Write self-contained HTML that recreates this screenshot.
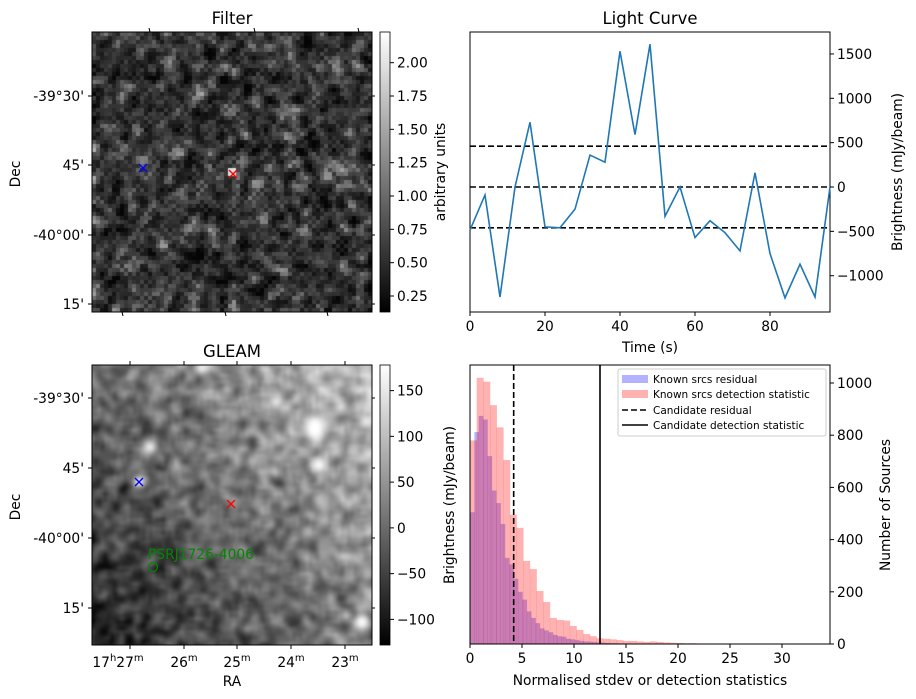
<!DOCTYPE html>
<html><head><meta charset="utf-8">
<style>
body{margin:0;background:#fff;width:916px;height:699px;overflow:hidden;font-family:"DejaVu Sans","Liberation Sans",sans-serif}
#wrap{position:relative;width:916px;height:699px}
canvas{position:absolute}
svg{position:absolute;left:0;top:0}
text{font-family:"DejaVu Sans","Liberation Sans",sans-serif;font-size:13.8px;fill:#000}
</style></head><body>
<div id="wrap">
<canvas id="cf" width="280" height="280" style="left:92px;top:32px"></canvas>
<canvas id="cg" width="280" height="280" style="left:92px;top:365px"></canvas>
<svg id="s" width="916" height="699"></svg>
</div>
<script>
// Light curve data
const lcTimes=[0,4,8,12,16,20,24,28,32,36,40,44,48,52,56,60,64,68,72,76,80,84,88,92,96];
const lcValues=[-485,-90,-1240,0,730,-450,-460,-250,360,280,1530,590,1610,-330,0,-570,-380,-515,-720,160,-750,-1250,-870,-1240,0];
const lcLevels=[460,0,-460];
const lcXTicks=[0,20,40,60,80];
const lcYTicks=[-1000,-500,0,500,1000,1500];
// Histogram data
const redBinWidth=0.64;
const redCounts=[780,1020,1005,915,830,705,495,445,318,287,203,161,100,92,90,69,54,38,30,22,20,18,15,12,12,10,8,10,8,6,5,4,3,3,2,2,1,1,1,1,1,1,1,1,1,0,0,1];
const blueBinWidth=0.42;
const blueCounts=[505,812,874,860,720,588,540,460,330,305,250,200,170,125,100,80,60,52,45,35,30,28,20,18,15,12,10,9,8,6,5,4,3,3,2,2,2,1,1,1,1,1];
const candResidual=4.2;
const candDetection=12.5;
const histXTicks=[0,5,10,15,20,25,30];
const histYTicks=[0,200,400,600,800,1000];
const filterCbTicks=[0.25,0.5,0.75,1.0,1.25,1.5,1.75,2.0];
const gleamCbTicks=[-100,-50,0,50,100,150];

const S=document.getElementById('s');const NS='http://www.w3.org/2000/svg';
function el(t,a,p){const e=document.createElementNS(NS,t);for(const k in a)e.setAttribute(k,a[k]);(p||S).appendChild(e);return e;}
function tx(x,y,s,anchor,extra){const e=el('text',Object.assign({x:x,y:y,'text-anchor':anchor||'middle'},extra||{}));e.textContent=s;return e;}

// ---- image textures (seeded) ----
let seed=12345;function rnd(){seed=(seed*1103515245+12345)%2147483648;return seed/2147483648;}
(function(){
 const c=document.getElementById('cf').getContext('2d');const N=70;let g=[];
 for(let i=0;i<N*N;i++)g.push(rnd());
 let h=[];for(let y=0;y<N;y++)for(let x=0;x<N;x++){let s=0,n=0;for(let dy=-1;dy<=1;dy++)for(let dx=-1;dx<=1;dx++){const xx=x+dx,yy=y+dy;if(xx>=0&&yy>=0&&xx<N&&yy<N){const w=(dx==0&&dy==0)?4:1;s+=g[yy*N+xx]*w;n+=w;}}h.push(s/n);}
 for(let y=0;y<N;y++)for(let x=0;x<N;x++){const z=(h[y*N+x]-0.5)/0.13;let v=52+24*z;if(z>1)v+=30*(z-1);v=Math.max(5,Math.min(235,v));c.fillStyle='rgb('+(v|0)+','+(v|0)+','+(v|0)+')';c.fillRect(x*4,y*4,4,4);}
 c.fillStyle='#ddd';c.fillRect(136,136,8,8);
})();
(function(){
 const c=document.getElementById('cg').getContext('2d');const N=90;const off=document.createElement('canvas');off.width=N;off.height=N;const o=off.getContext('2d');
 let g=[];for(let i=0;i<N*N;i++)g.push(rnd());
 let h=[];for(let y=0;y<N;y++)for(let x=0;x<N;x++){let s=0,n=0;for(let dy=-1;dy<=1;dy++)for(let dx=-1;dx<=1;dx++){const xx=x+dx,yy=y+dy;if(xx>=0&&yy>=0&&xx<N&&yy<N){s+=g[yy*N+xx];n++;}}h.push(s/n);}
 const im=o.createImageData(N,N);
 for(let y=0;y<N;y++)for(let x=0;x<N;x++){const grad=30+95*(x/N)+75*(1-y/N);let v=grad+(h[y*N+x]-0.5)*230;v=Math.max(0,Math.min(255,v));const i=(y*N+x)*4;im.data[i]=im.data[i+1]=im.data[i+2]=v;im.data[i+3]=255;}
 o.putImageData(im,0,0);c.imageSmoothingEnabled=true;c.filter='blur(1.5px)';c.drawImage(off,-4,-4,288,288);c.filter='blur(3px)';
 const blobs=[[58,82,6,6],[223,63,10,12],[227,100,7,7],[110,3,7,5],[270,257,7,7],[47,117,6,6],[184,37,5,5]];
 c.fillStyle='#fff';blobs.forEach(b=>{c.beginPath();c.ellipse(b[0],b[1],b[2],b[3],0,0,Math.PI*2);c.fill();});
})();

// ---- image frames, ticks, labels ----
function imgPanel(top,title,nm,decs){
 el('rect',{x:92,y:top,width:280,height:280,fill:'none',stroke:'#000','stroke-width':1});
 tx(232,top-8,title,'middle',{style:'font-size:16.5px',});
 decs.forEach(d=>{el('line',{x1:88,x2:92,y1:d[1],y2:d[1],stroke:'#000'});tx(84,d[1]+5,d[0],'end');el('line',{x1:372,x2:375,y1:d[1],y2:d[1],stroke:'#000'});});
 tx(0,0,'Dec','middle',{transform:'translate(20 '+(top+142)+') rotate(-90)',});
}
imgPanel(32,'Filter','filter',[['-39°30\'',96],['45\'',165],['-40°00\'',235],['15\'',304]]);
imgPanel(365,'GLEAM','gleam',[['-39°30\'',398],['45\'',468],['-40°00\'',538],['15\'',608]]);
[149,254,358].forEach(x=>{el('line',{x1:x,x2:x+1,y1:28,y2:32,stroke:'#000'});});
[122,225,327].forEach(x=>{el('line',{x1:x,x2:x+1,y1:312,y2:316,stroke:'#000'});});
const ras=[['27',130],['26',184],['25',237],['24',291],['23',345]];
ras.forEach((r,i)=>{el('line',{x1:r[1],x2:r[1],y1:645,y2:649,stroke:'#000'});el('line',{x1:r[1],x2:r[1],y1:361,y2:365,stroke:'#000'});
 const t=el('text',{x:r[1]+(i==0?-12:0),y:667,'text-anchor':'middle'});t.innerHTML=(i==0?'17<tspan dy="-6" style="font-size:10px">h</tspan><tspan dy="6">':'<tspan>')+r[0]+'</tspan><tspan dy="-6" style="font-size:10px">m</tspan>';});
tx(232,686,'RA','middle',{});
// markers
function cross(x,y,col,nm){const g=el('g',{stroke:col,'stroke-width':1.3});el('line',{x1:x-4,y1:y-4,x2:x+4,y2:y+4},g);el('line',{x1:x-4,y1:y+4,x2:x+4,y2:y-4},g);}
cross(143,168,'#00f','filter-known-marker');cross(233,174,'#f00','filter-candidate-marker');
cross(139,482,'#00f','gleam-known-marker');cross(231,504,'#f00','gleam-candidate-marker');
el('circle',{cx:153,cy:567,r:4.5,fill:'none',stroke:'#080','stroke-width':1.2});
tx(148,559,'PSRJ1726-4006','start',{style:'fill:#080;font-size:13.8px',});

// colorbars
function cbar(top,vmin,vmax,ticks,label,nm,fmt){
 const id='gr'+nm;const d=el('defs',{});const lg=el('linearGradient',{id:id,x1:0,y1:1,x2:0,y2:0},d);el('stop',{offset:0,'stop-color':'#000'},lg);el('stop',{offset:1,'stop-color':'#fff'},lg);
 const r=el('rect',{x:380,y:top,width:10,height:280,fill:'url(#'+id+')',stroke:'#000','stroke-width':0.8});
 ticks.forEach(v=>{const y=top+280-(v-vmin)/(vmax-vmin)*280;el('line',{x1:390,x2:394,y1:y,y2:y,stroke:'#000'});tx(397,y+5,fmt(v),'start');});
 tx(0,0,label,'middle',{transform:'translate('+(nm=='filter'?445:454)+' '+(top+140)+') rotate(-90)',});
}
cbar(32,0.13,2.23,filterCbTicks,'arbitrary units','filter',v=>v.toFixed(2));
cbar(365,-128,178,gleamCbTicks,'Brightness (mJy/beam)','gleam',v=>v<0?'\u2212'+(-v):String(v));

// ---- light curve ----
const L={x:470,y:32,w:360,h:280};
const lx=t=>L.x+t/96*L.w;const ly=v=>187-v*0.0887;
el('rect',{x:L.x,y:L.y,width:L.w,height:L.h,fill:'none',stroke:'#000'});
tx(650,24,'Light Curve','middle',{style:'font-size:16.5px',});
lcLevels.forEach(v=>{const l=el('line',{x1:L.x,x2:L.x+L.w,y1:ly(v),y2:ly(v),stroke:'#000','stroke-width':1.6,'stroke-dasharray':'6,3'});});
const lp=el('polyline',{points:lcTimes.map((t,i)=>lx(t)+','+ly(lcValues[i])).join(' '),fill:'none',stroke:'#1f77b4','stroke-width':1.6});

lcXTicks.forEach(t=>{el('line',{x1:lx(t),x2:lx(t),y1:312,y2:316,stroke:'#000'});tx(lx(t),331,String(t));});
lcYTicks.forEach(v=>{el('line',{x1:830,x2:834,y1:ly(v),y2:ly(v),stroke:'#000'});tx(837,ly(v)+5,v<0?'\u2212'+(-v):String(v),'start');});
tx(650,352,'Time (s)','middle',{});
tx(0,0,'Brightness (mJy/beam)','middle',{transform:'translate(902 172) rotate(-90)',});

// ---- histogram ----
const H={x:470,y:365,w:360,h:279};
const hx=v=>H.x+v*10.4;const hy=c=>644-c*0.261;
blueCounts.forEach((c,i)=>{if(!c)return;const r=el('rect',{x:hx(i*blueBinWidth),y:hy(c),width:blueBinWidth*10.4+0.3,height:c*0.261,fill:'#0000ff','fill-opacity':0.3});});
redCounts.forEach((c,i)=>{if(!c)return;const r=el('rect',{x:hx(i*redBinWidth),y:hy(c),width:redBinWidth*10.4+0.3,height:c*0.261,fill:'#ff0000','fill-opacity':0.3});});
el('line',{x1:hx(candResidual),x2:hx(candResidual),y1:H.y,y2:644,stroke:'#000','stroke-width':1.6,'stroke-dasharray':'6,3'});
el('line',{x1:hx(candDetection),x2:hx(candDetection),y1:H.y,y2:644,stroke:'#000','stroke-width':1.6});
el('rect',{x:H.x,y:H.y,width:H.w,height:H.h,fill:'none',stroke:'#000'});
histXTicks.forEach(v=>{el('line',{x1:hx(v),x2:hx(v),y1:644,y2:648,stroke:'#000'});tx(hx(v),663,String(v));});
histYTicks.forEach(v=>{el('line',{x1:830,x2:834,y1:hy(v),y2:hy(v),stroke:'#000'});tx(837,hy(v)+5,String(v),'start');});
tx(650,685,'Normalised stdev or detection statistics','middle',{});
tx(0,0,'Number of Sources','middle',{transform:'translate(890 505) rotate(-90)',});
// legend
const lg=el('g',{});
el('rect',{x:618,y:369,width:208,height:67,rx:2,fill:'#fff','fill-opacity':0.8,stroke:'#ccc'},lg);
el('rect',{x:622,y:375,width:26,height:8,fill:'#0000ff','fill-opacity':0.3},lg);
el('rect',{x:622,y:390,width:26,height:8,fill:'#ff0000','fill-opacity':0.3},lg);
el('line',{x1:622,x2:648,y1:410,y2:410,stroke:'#000','stroke-width':1.6,'stroke-dasharray':'6,3'},lg);
el('line',{x1:622,x2:648,y1:425,y2:425,stroke:'#000','stroke-width':1.6},lg);
[['Known srcs residual',383],['Known srcs detection statistic',398],['Candidate residual',414],['Candidate detection statistic',429]].forEach(a=>{const t=el('text',{x:653,y:a[1],style:'font-size:10.5px'},lg);t.textContent=a[0];});
</script>
</body></html>
